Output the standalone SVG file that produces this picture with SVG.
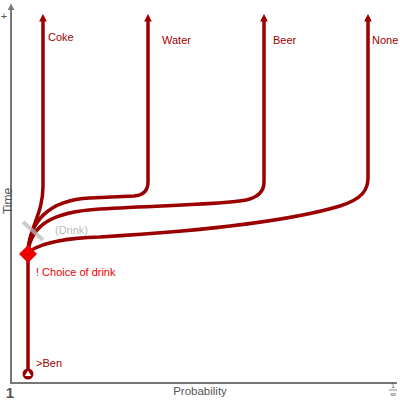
<svg xmlns="http://www.w3.org/2000/svg" width="400" height="400" viewBox="0 0 400 400">
<style>
.axis{stroke:#777;stroke-width:2;fill:none}
.ax{font-family:"Liberation Sans",Arial,sans-serif;fill:#555}
.br{stroke:#9b0000;stroke-width:3.5;fill:none;stroke-linecap:butt}
.lbl{font-family:"Liberation Sans",Arial,sans-serif;font-size:11px;fill:#9b0000}
</style>
<defs>
<marker id="ah" viewBox="0 0 10 10" refX="2" refY="5" markerWidth="2.2" markerHeight="2.2" orient="auto" markerUnits="strokeWidth">
<path d="M0,0 L10,5 L0,10 Z" fill="#9b0000"/>
</marker>
<marker id="axh" viewBox="0 0 10 10" refX="2" refY="5" markerWidth="3.5" markerHeight="3.5" orient="auto" markerUnits="strokeWidth">
<path d="M0,0 L10,5 L0,10 Z" fill="#777"/>
</marker>
</defs>
<g id="axes">
<path class="axis" d="M11,383 L11,9" marker-end="url(#axh)"/>
<path class="axis" d="M10,383 L397,383"/>
<text class="ax" x="4" y="20" font-size="11" text-anchor="middle">+</text>
<text class="ax" x="0" y="0" font-size="12" text-anchor="middle" transform="translate(12,201) rotate(-90)">Time</text>
<text class="ax" x="10" y="398" font-size="15" font-weight="bold" text-anchor="middle">1</text>
<text class="ax" x="200" y="395" font-size="11.5" text-anchor="middle">Probability</text>
<text class="ax" x="393" y="388" font-size="7" text-anchor="middle">1</text>
<line x1="389" y1="390" x2="397" y2="390" stroke="#555" stroke-width="0.7"/>
<text class="ax" x="393" y="397" font-size="8" text-anchor="middle">∞</text>
</g>
<g id="connectors">
<path class="br" d="M28,374 L28,254"/>
<path class="br" d="M28,251 C30,226 43,214 43,186 L43,20" marker-end="url(#ah)"/>
<path class="br" d="M28,251 C30,222 48,200 90,198 L134,196 Q148,195 148,182 L148,20" marker-end="url(#ah)"/>
<path class="br" d="M28,251 C32,226 50,212 100,209 C160,205 220,205 246,200 Q264,196 264,182 L264,20" marker-end="url(#ah)"/>
<path class="br" d="M30,251 C45,241 70,238 100,237 C200,231 290,221 340,206 C362,199 368,190 368,178 L368,20" marker-end="url(#ah)"/>
<line x1="23" y1="222" x2="43" y2="240" stroke="#bbb" stroke-width="4" opacity="0.75"/>
</g>
<g id="start">
<circle cx="28" cy="374" r="5.5" fill="#9b0000"/>
<path d="M28,370.5 L31.2,376 L24.8,376 Z" fill="#fff"/>
<text class="lbl" x="36" y="367">&gt;Ben</text>
</g>
<g id="choice">
<path d="M28,245 L37,254 L28,263 L19,254 Z" fill="#ee0000"/>
<text class="lbl" x="36" y="276" style="fill:#ee0000">! Choice of drink</text>
<text class="lbl" x="55" y="234" style="fill:#bbb">(Drink)</text>
</g>
<g id="coke"><text class="lbl" x="48" y="41">Coke</text></g>
<g id="water"><text class="lbl" x="162" y="44">Water</text></g>
<g id="beer"><text class="lbl" x="273" y="44">Beer</text></g>
<g id="none"><text class="lbl" x="372" y="44">None</text></g>
</svg>
